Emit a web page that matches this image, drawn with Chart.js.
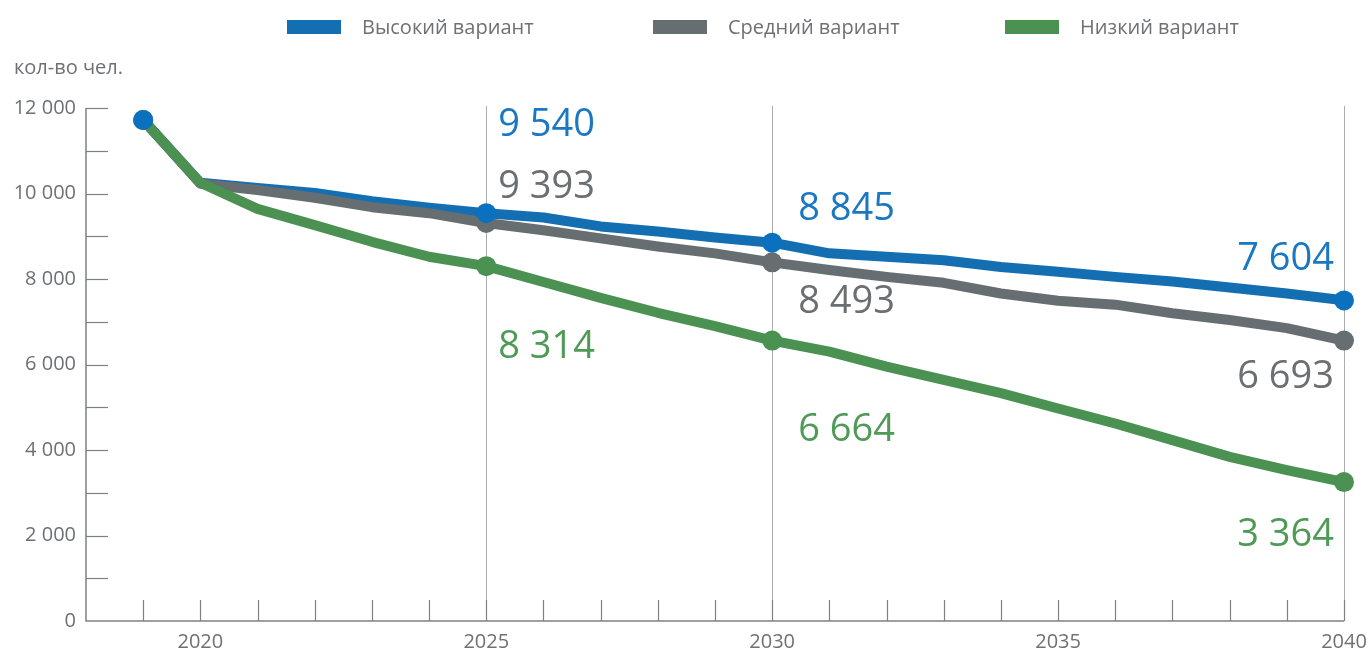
<!DOCTYPE html>
<html>
<head>
<meta charset="utf-8">
<script src="https://cdn.jsdelivr.net/npm/chart.js@4.4.1/dist/chart.umd.min.js"></script>
<style>
  html, body { margin: 0; padding: 0; background: #ffffff; }
  #wrap { position: relative; width: 1371px; height: 653px; }
</style>
</head>
<body>
<div id="wrap"><canvas id="c"></canvas></div>
<script>
// ---------- DATA ----------
const years = [2019, 2020, 2021, 2022, 2023, 2024, 2025, 2026, 2027, 2028, 2029, 2030,
               2031, 2032, 2033, 2034, 2035, 2036, 2037, 2038, 2039, 2040];
const highVariant   = [11720, 10250, 10130, 10010, 9820, 9670, 9540, 9440, 9230, 9110, 8970, 8850,
                       8600, 8520, 8440, 8280, 8170, 8050, 7940, 7800, 7660, 7500];
const mediumVariant = [11720, 10230, 10080, 9900, 9680, 9540, 9310, 9140, 8950, 8760, 8600, 8390,
                       8210, 8050, 7910, 7660, 7490, 7400, 7200, 7040, 6850, 6560];
const lowVariant    = [11720, 10250, 9640, 9260, 8870, 8520, 8300, 7930, 7560, 7210, 6900, 6560,
                       6300, 5950, 5640, 5330, 4970, 4620, 4230, 3840, 3530, 3250];
const seriesNames = ['Высокий вариант', 'Средний вариант', 'Низкий вариант'];
const markerYears = [2019, 2025, 2030, 2040];
const labelYears = [2025, 2030, 2040];
const highLabels   = [9540, 8845, 7604];
const mediumLabels = [9393, 8493, 6693];
const lowLabels    = [8314, 6664, 3364];
const yTickValues = [0, 2000, 4000, 6000, 8000, 10000, 12000];
const xLabelYears = [2020, 2025, 2030, 2035, 2040];
const gridYears = [2025, 2030, 2040];
const yAxisTitle = 'кол-во чел.';

// ---------- STYLE ----------
const FONT = "'Open Sans', 'DejaVu Sans', sans-serif";
const colors = {
  high:   { line: '#146fb2', marker: '#0b71bf', text: '#1a77c2' },
  medium: { line: '#676e72', marker: '#676e72', text: '#6b6f72' },
  low:    { line: '#4b9152', marker: '#4b9152', text: '#4f9a57' }
};
const axisColor = '#7d8185';
const gridColor = '#a9adb1';
const tickTextColor = '#6d7175';
const labelLayout = {
  high:   [{dx: 12, dy: -88, align: 'left'}, {dx: 26, dy: -33, align: 'left'}, {dx: -10, dy: -41, align: 'right'}],
  medium: [{dx: 12, dy: -36, align: 'left'}, {dx: 26, dy: 40, align: 'left'},  {dx: -10, dy: 37, align: 'right'}],
  low:    [{dx: 12, dy: 81, align: 'left'},  {dx: 26, dy: 90, align: 'left'},  {dx: -10, dy: 53, align: 'right'}]
};
const legendLayout = { boxXs: [287, 653, 1005], y: 27, boxW: 54, boxH: 14, gap: 21, fontSize: 20 };

function fmt(v) {
  const s = String(Math.round(v));
  return s.replace(/\B(?=(\d{3})+(?!\d))/g, ' ');
}
function pts(arr) { return years.map((y, i) => ({ x: y, y: arr[i] })); }
function markerPts(arr) { return markerYears.map(y => ({ x: y, y: arr[years.indexOf(y)] })); }

const keys = ['high', 'medium', 'low'];
const dataMap = { high: highVariant, medium: mediumVariant, low: lowVariant };
const labelMap = { high: highLabels, medium: mediumLabels, low: lowLabels };

const lineDatasets = keys.map((k, i) => ({
  label: seriesNames[i],
  data: pts(dataMap[k]),
  borderColor: colors[k].line,
  backgroundColor: colors[k].line,
  borderWidth: 10,
  pointRadius: 0,
  tension: 0,
  borderJoinStyle: 'round',
  borderCapStyle: 'round',
  fill: false,
  order: 5 - i
}));
const markerDatasets = keys.map((k, i) => ({
  label: seriesNames[i] + ' (точки)',
  data: markerPts(dataMap[k]),
  showLine: false,
  pointRadius: 10,
  pointHoverRadius: 10,
  pointBackgroundColor: colors[k].marker,
  pointBorderWidth: 0,
  borderColor: colors[k].marker,
  backgroundColor: colors[k].marker,
  clip: false,
  order: i
}));

const decor = {
  id: 'decor',
  beforeDatasetsDraw(chart) {
    const { ctx, chartArea: a, scales: { x, y } } = chart;
    ctx.save();
    ctx.strokeStyle = gridColor;
    ctx.lineWidth = 1;
    gridYears.forEach(yr => {
      const px = Math.round(x.getPixelForValue(yr)) + 0.5;
      ctx.beginPath(); ctx.moveTo(px, a.top - 2); ctx.lineTo(px, a.bottom); ctx.stroke();
    });
    ctx.strokeStyle = axisColor;
    ctx.lineWidth = 1.5;
    ctx.beginPath();
    ctx.moveTo(a.left, a.top); ctx.lineTo(a.left, a.bottom); ctx.lineTo(a.right, a.bottom);
    ctx.stroke();
    ctx.lineWidth = 1.2;
    for (let v = 1000; v <= 12000; v += 1000) {
      const py = Math.round(y.getPixelForValue(v)) + 0.5;
      ctx.beginPath(); ctx.moveTo(a.left, py); ctx.lineTo(a.left + 22, py); ctx.stroke();
    }
    years.forEach(yr => {
      const px = Math.round(x.getPixelForValue(yr)) + 0.5;
      ctx.beginPath(); ctx.moveTo(px, a.bottom); ctx.lineTo(px, a.bottom - 21); ctx.stroke();
    });
    ctx.restore();
  },
  afterDraw(chart) {
    const { ctx, scales: { x, y } } = chart;
    ctx.save();
    ctx.font = `400 38px ${FONT}`;
    ctx.textBaseline = 'middle';
    keys.forEach(k => {
      labelYears.forEach((yr, j) => {
        const lay = labelLayout[k][j];
        const px = x.getPixelForValue(yr) + lay.dx;
        const py = y.getPixelForValue(dataMap[k][years.indexOf(yr)]) + lay.dy;
        ctx.fillStyle = colors[k].text;
        ctx.textAlign = lay.align;
        ctx.fillText(fmt(labelMap[k][j]), px, py);
      });
    });
    ctx.font = `400 20px ${FONT}`;
    ctx.fillStyle = tickTextColor;
    ctx.textAlign = 'left';
    ctx.fillText(yAxisTitle, 14, 68);
    ctx.font = `400 ${legendLayout.fontSize}px ${FONT}`;
    keys.forEach((k, i) => {
      const bx = legendLayout.boxXs[i];
      ctx.fillStyle = colors[k].line;
      ctx.fillRect(bx, legendLayout.y - legendLayout.boxH / 2, legendLayout.boxW, legendLayout.boxH);
      ctx.fillStyle = tickTextColor;
      ctx.textAlign = 'left';
      ctx.fillText(seriesNames[i], bx + legendLayout.boxW + legendLayout.gap, legendLayout.y + 1);
    });
    ctx.restore();
  }
};

new Chart(document.getElementById('c'), {
  type: 'line',
  data: { datasets: [...lineDatasets, ...markerDatasets] },
  options: {
    responsive: true,
    maintainAspectRatio: false,
    animation: false,
    layout: { padding: { top: 108, right: 27, left: 0, bottom: 0 } },
    plugins: { legend: { display: false }, tooltip: { enabled: false }, title: { display: false } },
    scales: {
      x: {
        type: 'linear', min: 2018, max: 2040,
        grid: { display: false, drawTicks: false },
        border: { display: false },
        afterBuildTicks(scale) { scale.ticks = xLabelYears.map(v => ({ value: v })); },
        afterFit(scale) { scale.height = 32; scale.paddingRight = 0; scale.paddingLeft = 0; },
        ticks: {
          autoSkip: false, maxRotation: 0, padding: 9,
          color: tickTextColor, font: { family: FONT, size: 20 },
          callback: v => String(v)
        }
      },
      y: {
        min: 0, max: 12000,
        grid: { display: false, drawTicks: false },
        border: { display: false },
        afterBuildTicks(scale) { scale.ticks = yTickValues.map(v => ({ value: v })); },
        afterFit(scale) { scale.width = 86; scale.paddingTop = 0; scale.paddingBottom = 0; },
        ticks: {
          padding: 10, color: tickTextColor, font: { family: FONT, size: 20 },
          callback: v => fmt(v)
        }
      }
    }
  },
  plugins: [decor]
});
</script>
</body>
</html>
